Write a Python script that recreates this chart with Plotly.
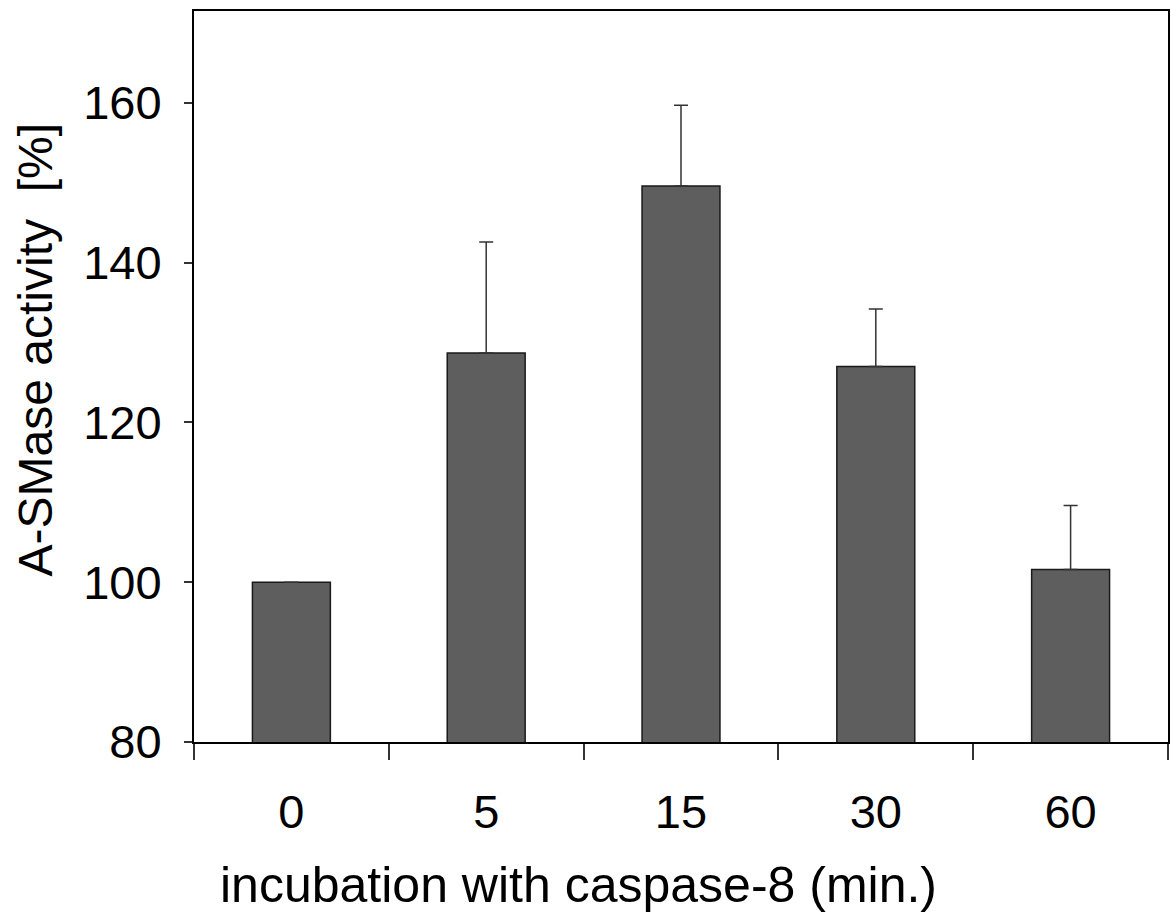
import plotly.graph_objects as go

categories = ["0", "5", "15", "30", "60"]
activity = [100.0, 128.7, 149.6, 127.0, 101.6]
error_up = [None, 13.9, 10.1, 7.2, 8.0]
y_ticks = [80, 100, 120, 140, 160]

x_title = "incubation with caspase-8 (min.)"
y_title = "A-SMase activity\u00a0 [%]"

FONT = "Liberation Sans, Arial, sans-serif"

fig = go.Figure(
    go.Bar(
        x=categories,
        y=activity,
        width=0.4,
        marker=dict(color="#5e5e5e", line=dict(color="#1a1a1a", width=1.5)),
        error_y=dict(
            type="data",
            symmetric=False,
            array=error_up,
            arrayminus=[0] * len(activity),
            color="#333333",
            thickness=1.5,
            width=7,
        ),
    )
)

fig.update_layout(
    width=1172,
    height=924,
    margin=dict(l=194, r=2, t=11, b=182),
    plot_bgcolor="white",
    paper_bgcolor="white",
    showlegend=False,
    font=dict(family=FONT, size=47, color="black"),
)

fig.update_xaxes(
    type="category",
    tickson="boundaries",
    ticks="outside",
    ticklen=16,
    tickwidth=1.5,
    tickcolor="#333333",
    showline=True,
    linewidth=2,
    linecolor="black",
    mirror=True,
    showgrid=False,
    tickfont=dict(size=47),
    ticklabelstandoff=28,
)

fig.update_yaxes(
    range=[80, 171.5],
    tickvals=y_ticks,
    ticks="outside",
    ticklen=8,
    tickwidth=1.5,
    tickcolor="#333333",
    showline=True,
    linewidth=2,
    linecolor="black",
    mirror=True,
    showgrid=False,
    zeroline=False,
    tickfont=dict(size=47),
    ticklabelstandoff=13,
)

fig.add_annotation(
    text=x_title, xref="paper", yref="paper", x=0.395, y=-0.1956,
    xanchor="center", yanchor="middle", showarrow=False,
    font=dict(size=50),
)
fig.add_annotation(
    text=y_title, xref="paper", yref="paper", x=-0.163, y=0.536,
    xanchor="center", yanchor="middle", showarrow=False, textangle=-90,
    font=dict(size=48),
)

fig.write_html(
    "out.html",
    config={"displayModeBar": False},
    post_script="document.body.style.margin='0';",
)
